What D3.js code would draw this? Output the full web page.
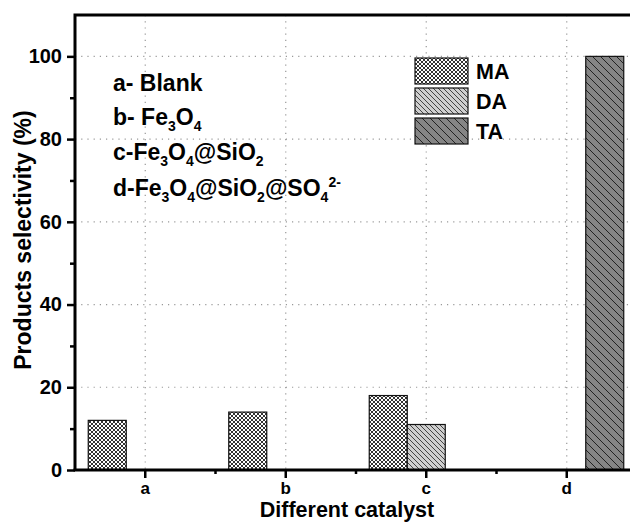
<!DOCTYPE html>
<html>
<head>
<meta charset="utf-8">
<script src="https://cdn.jsdelivr.net/npm/d3@7"></script>
<style>
  body { margin: 0; background: #fff; }
  svg text { font-family: "Liberation Sans", Arial, sans-serif; font-weight: bold; }
</style>
</head>
<body>
<div id="chart"></div>
<script>
var categories = ['a', 'b', 'c', 'd'];
var seriesNames = ['MA', 'DA', 'TA'];
var maValues = [12, 14, 18, 0];
var daValues = [0, 0, 11, 0];
var taValues = [0, 0, 0, 100];
var yTicks = [0, 20, 40, 60, 80, 100];
var yMinorTicks = [10, 30, 50, 70, 90];
var notes = [
    [['a- Blank', '']],
    [['b- Fe', ''], ['3', 'sub'], ['O', ''], ['4', 'sub']],
    [['c-Fe', ''], ['3', 'sub'], ['O', ''], ['4', 'sub'], ['@SiO', ''], ['2', 'sub']],
    [['d-Fe', ''], ['3', 'sub'], ['O', ''], ['4', 'sub'], ['@SiO', ''], ['2', 'sub'], ['@SO', ''], ['4', 'sub'], ['2-', 'sup']]
];

var W = 630, H = 522;
var m = {left: 75, top: 15, right: 637, bottom: 470};

var svg = d3.select('#chart').append('svg')
    .attr('width', W)
    .attr('height', H);

// patterns
var defs = svg.append('defs');
var pMA = defs.append('pattern').attr('id', 'pMA')
    .attr('patternUnits', 'userSpaceOnUse').attr('width', 4).attr('height', 4);
pMA.append('rect').attr('width', 4).attr('height', 4).attr('fill', '#fff');
pMA.append('path').attr('d', 'M0,0L4,4M4,0L0,4').attr('stroke', '#333').attr('stroke-width', 1);

var pDA = defs.append('pattern').attr('id', 'pDA')
    .attr('patternUnits', 'userSpaceOnUse').attr('width', 5).attr('height', 5);
pDA.append('rect').attr('width', 5).attr('height', 5).attr('fill', '#cfcfcf');
pDA.append('path').attr('d', 'M-1,-1L6,6M-1,4L1,6M4,-1L6,1').attr('stroke', '#333').attr('stroke-width', 0.9);

var pTA = defs.append('pattern').attr('id', 'pTA')
    .attr('patternUnits', 'userSpaceOnUse').attr('width', 8).attr('height', 8);
pTA.append('rect').attr('width', 8).attr('height', 8).attr('fill', '#858585');
pTA.append('path').attr('d', 'M-1,-1L9,9M-1,7L1,9M7,-1L9,1').attr('stroke', '#222').attr('stroke-width', 1);

var fills = {MA: 'url(#pMA)', DA: 'url(#pDA)', TA: 'url(#pTA)'};

var x = d3.scaleBand().domain(categories).range([m.left, m.right]).padding(0);
var bw = 38;
var x1 = d3.scaleBand().domain(seriesNames)
    .range([x.bandwidth() / 2 - 1.5 * bw, x.bandwidth() / 2 + 1.5 * bw]);
var y = d3.scaleLinear().domain([0, 110]).range([m.bottom, m.top]);

// grid
var grid = svg.append('g').attr('stroke', '#999').attr('stroke-width', 1.2)
    .attr('stroke-dasharray', '1.2,5');
grid.selectAll('.hg').data(yTicks.slice(1)).enter().append('line')
    .attr('x1', m.left).attr('x2', m.right)
    .attr('y1', function(d){ return y(d); }).attr('y2', function(d){ return y(d); });
grid.selectAll('.vg').data(categories).enter().append('line')
    .attr('x1', function(d){ return x(d) + x.bandwidth() / 2; })
    .attr('x2', function(d){ return x(d) + x.bandwidth() / 2; })
    .attr('y1', m.top).attr('y2', m.bottom);

// bars
var rows = [];
categories.forEach(function(c, i) {
    rows.push({cat: c, key: 'MA', v: maValues[i]});
    rows.push({cat: c, key: 'DA', v: daValues[i]});
    rows.push({cat: c, key: 'TA', v: taValues[i]});
});
svg.append('g').selectAll('rect').data(rows.filter(function(d){ return d.v > 0; }))
    .enter().append('rect')
    .attr('x', function(d){ return x(d.cat) + x1(d.key); })
    .attr('y', function(d){ return y(d.v); })
    .attr('width', x1.bandwidth())
    .attr('height', function(d){ return y(0) - y(d.v); })
    .attr('fill', function(d){ return fills[d.key]; })
    .attr('stroke', '#111').attr('stroke-width', 1.2);

// axes
var yAxis = svg.append('g').attr('transform', 'translate(' + m.left + ',0)')
    .call(d3.axisLeft(y).tickValues(yTicks).tickSize(8).tickPadding(5));
svg.append('g').attr('transform', 'translate(' + m.left + ',0)')
    .call(d3.axisLeft(y).tickValues(yMinorTicks).tickSize(5).tickFormat(''));
var xAxis = svg.append('g').attr('transform', 'translate(0,' + m.bottom + ')')
    .call(d3.axisBottom(x).tickSize(8).tickPadding(4));
var mids = categories.slice(1).map(function(c){ return x(c); });
svg.append('g').attr('transform', 'translate(0,' + m.bottom + ')')
    .selectAll('line').data(mids).enter().append('line')
    .attr('x1', function(d){ return d; }).attr('x2', function(d){ return d; })
    .attr('y1', 0).attr('y2', 4).attr('stroke', '#000').attr('stroke-width', 2.5);

svg.selectAll('.domain').attr('stroke', 'none');
svg.selectAll('.tick line').attr('stroke', '#000').attr('stroke-width', 2.5);
yAxis.attr('font-family', null).selectAll('text')
    .style('font-size', '20px').style('font-family', '"Liberation Sans", Arial, sans-serif').attr('fill', '#000');
xAxis.attr('font-family', null).selectAll('text')
    .style('font-size', '17px').style('font-family', '"Liberation Sans", Arial, sans-serif').attr('fill', '#000');

// frame
svg.append('path')
    .attr('d', 'M' + m.left + ',' + m.bottom + 'V' + m.top + 'H' + W)
    .attr('fill', 'none').attr('stroke', '#000').attr('stroke-width', 3);
svg.append('line')
    .attr('x1', m.left - 1.5).attr('x2', W)
    .attr('y1', m.bottom).attr('y2', m.bottom)
    .attr('stroke', '#000').attr('stroke-width', 3);

// axis titles
svg.append('text')
    .attr('transform', 'translate(31,240) rotate(-90)')
    .attr('text-anchor', 'middle').attr('font-size', 23)
    .text('Products selectivity (%)');
svg.append('text')
    .attr('x', 347).attr('y', 517)
    .attr('text-anchor', 'middle').attr('font-size', 21.5)
    .text('Different catalyst');

// catalyst notes
var noteY = [91, 125, 160, 196];
notes.forEach(function(parts, i) {
    var t = svg.append('text').attr('x', 113).attr('y', noteY[i]).attr('font-size', 23);
    var shift = 0;
    parts.forEach(function(p) {
        var target = p[1] === 'sub' ? 6 : (p[1] === 'sup' ? -9 : 0);
        t.append('tspan')
            .attr('dy', target - shift)
            .attr('font-size', p[1] ? 14 : 23)
            .text(p[0]);
        shift = target;
    });
});

// legend
var leg = svg.append('g');
seriesNames.forEach(function(s, i) {
    var yy = 58 + i * 30;
    leg.append('rect').attr('x', 415).attr('y', yy).attr('width', 53).attr('height', 26)
        .attr('fill', fills[s]).attr('stroke', '#111').attr('stroke-width', 1.2);
    leg.append('text').attr('x', 476).attr('y', yy + 20.5).attr('font-size', 21.5).text(s);
});
</script>
</body>
</html>
